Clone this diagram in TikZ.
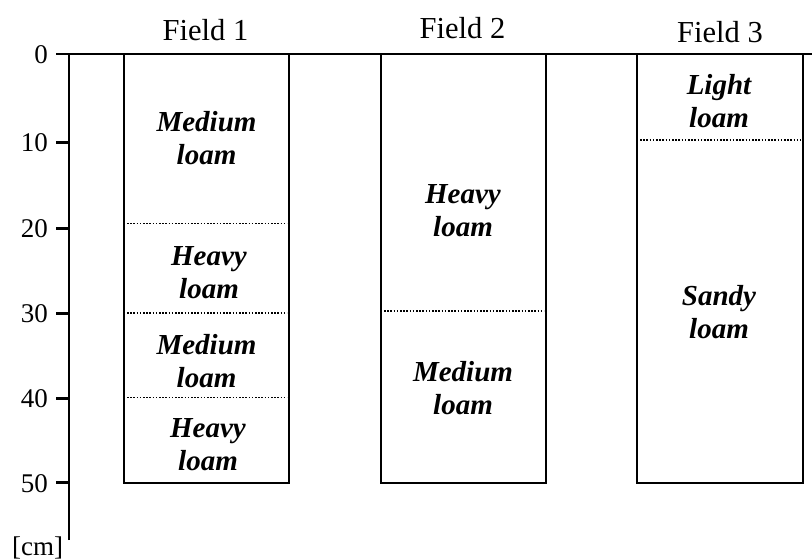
\documentclass[tikz,border=0pt]{standalone}
\usepackage{fontspec}
\setmainfont{Liberation Serif}
\begin{document}
\begin{tikzpicture}[x=1pt,y=-1pt,
  frame/.style={draw=black,line width=2.6pt},
  axisline/.style={draw=black,line width=2.6pt},
  layerline/.style={draw=black,line width=1.7pt,dash pattern=on 1.6pt off 1.6pt},
  fieldlabel/.style={inner sep=0pt,anchor=base,font=\fontsize{30.5}{34}\selectfont},
  ticklabel/.style={inner sep=0pt,anchor=east,font=\fontsize{27}{32}\selectfont},
  soil/.style={inner sep=0pt,align=center,font=\fontsize{29}{33}\selectfont\bfseries\itshape},
]
\useasboundingbox (0,0) rectangle (812,560);
% axis
\coordinate (atop) at (69,54);
\coordinate (abot) at (69,540);
\coordinate (lineR) at (812,54);
\coordinate (lineL) at (56,54);
\draw[axisline] (abot) -- (atop);
\draw[axisline] (lineL) -- (lineR);
\foreach \d/\yy in {0/54,10/142.5,20/228.3,30/313.3,40/398.5,50/482.7}{
  \coordinate (t\d) at (56,\yy);
  \coordinate (ta\d) at (69,\yy);
  \draw[axisline] (t\d) -- (ta\d);
  \node[ticklabel] (l\d) at (48,\yy+0.5) {\d};
}
\node[inner sep=0pt,anchor=base west,font=\fontsize{27}{32}\selectfont] (cm) at (12,555) {[cm]};
% field labels
\node[fieldlabel] (f1) at (205.5,40.7) {Field 1};
\node[fieldlabel] (f2) at (462.5,38.3) {Field 2};
\node[fieldlabel] (f3) at (720,42) {Field 3};
% boxes
\draw[frame] (124,54) rectangle (289,483);
\draw[frame] (381,54) rectangle (546,483);
\draw[frame] (637,54) rectangle (803,483);
% layer boundaries
\foreach \n/\xa/\xb/\yy in {a/127/287/223.5,b/127/287/313,c/127/287/397.5,d/384/544/311,e/640/801/140}{
  \coordinate (\n1) at (\xa,\yy);
  \coordinate (\n2) at (\xb,\yy);
  \draw[layerline] (\n1) -- (\n2);
}
% soil labels
\node[soil] (s11) at (206.5,138.3) {Medium\\loam};
\node[soil] (s12) at (209,272.8) {Heavy\\loam};
\node[soil] (s13) at (206.5,361) {Medium\\loam};
\node[soil] (s14) at (208,445) {Heavy\\loam};
\node[soil] (s21) at (463,210.3) {Heavy\\loam};
\node[soil] (s22) at (463,388.3) {Medium\\loam};
\node[soil] (s31) at (719,100.8) {Light\\loam};
\node[soil] (s32) at (719,311.7) {Sandy\\loam};
\end{tikzpicture}
\end{document}
